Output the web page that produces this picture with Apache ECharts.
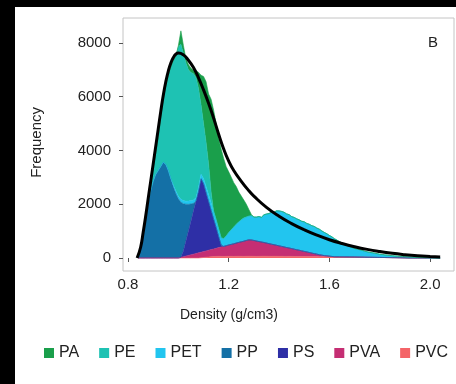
<!DOCTYPE html>
<html>
<head>
<meta charset="utf-8">
<script src="https://cdn.jsdelivr.net/npm/echarts@6/dist/echarts.min.js"></script>
<style>
html,body{margin:0;padding:0;background:#000;width:456px;height:384px;overflow:hidden}
#chart{position:absolute;left:15px;top:7px;width:441px;height:377px;background:#fff}
</style>
</head>
<body>
<div id="chart"></div>
<script>
// Histogram bins (density, g/cm3), width 0.01 from 0.84 to 2.04
const binStart = 0.84, binCount = 121;
const density = Array.from({length: binCount}, (_, i) => +(binStart + i * 0.01).toFixed(2));

const seriesNames = ['PA', 'PE', 'PET', 'PP', 'PS', 'PVA', 'PVC'];
const seriesColors = {PA:'#1a9f4b', PE:'#1ec2b3', PET:'#22c5ef', PP:'#1470a6', PS:'#2e2fa6', PVA:'#c52e73', PVC:'#f46468'};

// Frequency per bin for each polymer: first bin + values
const PP_start = 0.84;
const PP = [0,400,950,1500,2050,2500,2850,3100,3250,3400,3560,3480,3250,2950,2650,2400,2200,2050,1760,1370,1000,640,290,0];
const PE_start = 0.84;
const PE = [0,0,0,50,100,250,500,800,1250,1850,2340,2920,3550,4150,4640,5010,5550,5760,5460,5140,4880,4760,4700,4460,3670,2580,2040,1650,1140,400,0];
const PET_start = 0.98;
const PET = [60,90,100,110,120,110,120,130,120,130,150,170,200,230,260,280,290,290,280,270,290,360,460,550,620,700,760,820,860,870,
  880,900,870,890,930,920,1030,1080,1120,1190,1210,1280,1300,1300,1290,1250,1240,1190,1180,1150,
  1130,1100,1100,1060,1050,1020,1010,970,950,900,860,820,770,730,670,620,560,520,470,435,
  392,353,315,299,276,253,225,202,183,170,156,138,119,111,97,89,80,72,63,58,52,49,46,45,40,35,30,25,22,18,15,12,10,8,6,4,0];
const PS_start = 1.01;
const PS = [0,210,560,900,1250,1600,1940,2290,2730,2520,2160,1810,1460,1110,770,410,70,0];
const PVA_start = 1.00;
const PVA = [0,24,48,72,96,120,144,168,192,206,220,234,248,262,281,300,324,348,372,396,420,444,468,492,516,540,564,588,610,605,
  590,570,550,530,510,490,470,450,430,410,390,370,350,330,310,290,270,250,230,210,190,170,150,130,110,90,70,55,40,30,20,10,0];
const PVC_start = 1.08;
const PVC = [0,10,20,30,40,50,55,60,62,60,58,60,63,61,60,62,64,62,60,63,65,64,62,60,62,64,66,65,63,62,64,63,61,62,60,59,61,60,58,57,
  58,56,55,56,54,53,52,53,51,50,49,50,48,47,46,45,44,43,42,41,40,39,38,36,34,32,30,28,27,25,24,22,21,19,18,16,15,13,12,10,8,6,4,0];
const PA_start = 1.00;
const PA = [50,500,300,150,200,150,130,250,600,1100,1750,2250,2600,3450,3760,3580,3370,3300,2980,2580,2260,1950,1650,1400,1110,880,670,480,250,50,0];

// Fitted density curve (x, frequency)
const fitX = [0.836,0.85,0.86,0.87,0.88,0.89,0.90,0.91,0.92,0.93,0.94,0.95,0.96,0.97,0.98,0.99,1.00,1.02,1.04,1.06,1.08,1.10,1.12,1.14,1.16,1.18,1.20,1.22,1.25,1.28,1.30,1.35,1.40,1.45,1.50,1.55,1.60,1.65,1.70,1.75,1.80,1.85,1.90,1.95,2.00,2.04];
const fitY = [0,400,950,1550,2200,2850,3500,4150,4800,5450,6050,6550,6950,7250,7450,7580,7620,7550,7350,7080,6700,6250,5750,5200,4600,4050,3600,3250,2850,2500,2300,1880,1550,1280,1050,850,680,540,420,320,240,175,125,85,55,35];

const xTicks = [0.8, 1.2, 1.6, 2.0];
const yTicks = [0, 2000, 4000, 6000, 8000];

// rows are [frequency, density] so that the frequency dimension is the one stacked
function toRows(start, vals) {
  const s = Math.round((start - binStart) * 100);
  return density.map((x, i) => [(i >= s && i < s + vals.length) ? vals[i - s] : 0, x]);
}
const layers = [
  ['PVC', PVC_start, PVC], ['PVA', PVA_start, PVA], ['PS', PS_start, PS], ['PP', PP_start, PP],
  ['PET', PET_start, PET], ['PE', PE_start, PE], ['PA', PA_start, PA]
];

const font = 'Liberation Sans, Arial, Helvetica, sans-serif';
const chart = echarts.init(document.getElementById('chart'), null, {renderer: 'canvas'});
const series = layers.map(([name, st, vals]) => ({
  name, type: 'line', stack: 'total', data: toRows(st, vals),
  encode: {x: 1, y: 0},
  symbol: 'none', smooth: false,
  lineStyle: {width: 0.6, color: seriesColors[name]},
  itemStyle: {color: seriesColors[name]},
  areaStyle: {color: seriesColors[name], opacity: 1},
  emphasis: {disabled: true}, silent: true, z: 2
}));
series.push({
  name: 'fit', type: 'line', data: fitX.map((x, i) => [x, fitY[i]]),
  symbol: 'none', smooth: 0.5,
  lineStyle: {width: 3, color: '#000'}, z: 5, silent: true
});

chart.setOption({
  animation: false,
  backgroundColor: '#fff',
  grid: {left: 108, top: 11, right: 2, bottom: 113, show: true, borderColor: '#c4c4c4', borderWidth: 1, backgroundColor: '#fff'},
  xAxis: {
    type: 'value', min: 0.78, max: 2.095,
    axisLine: {show: false}, splitLine: {show: false},
    axisTick: {show: true, length: 4, customValues: xTicks, lineStyle: {color: '#555'}},
    axisLabel: {customValues: xTicks, formatter: v => v.toFixed(1), fontSize: 15, color: '#222', fontFamily: font, margin: 6}
  },
  yAxis: {
    type: 'value', min: -483, max: 8922,
    axisLine: {show: false}, splitLine: {show: false},
    axisTick: {show: true, length: 4, customValues: yTicks, lineStyle: {color: '#555'}},
    axisLabel: {customValues: yTicks, formatter: v => String(v), fontSize: 15, color: '#222', fontFamily: font, margin: 12}
  },
  legend: {
    data: seriesNames, left: 24, top: 333, icon: 'rect', itemWidth: 10, itemHeight: 10, itemGap: 20,
    textStyle: {fontSize: 16, color: '#222', fontFamily: font}, selectedMode: false
  },
  graphic: [
    {type: 'text', left: 14, top: 100, rotation: Math.PI / 2, style: {text: 'Frequency', font: '15px ' + font, fill: '#222'}},
    {type: 'text', style: {text: 'Density (g/cm3)', x: 214, y: 308, align: 'center', verticalAlign: 'middle', font: '14px ' + font, fill: '#222'}},
    {type: 'text', style: {text: 'B', x: 418, y: 36, align: 'center', verticalAlign: 'middle', font: '15px ' + font, fill: '#222'}}
  ],
  series
});
</script>
</body>
</html>
